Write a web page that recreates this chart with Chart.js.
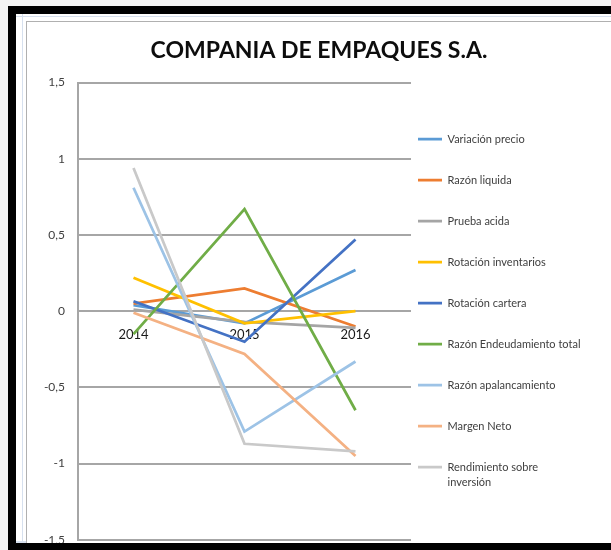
<!DOCTYPE html>
<html>
<head>
<meta charset="utf-8">
<script src="https://cdn.jsdelivr.net/npm/chart.js@4/dist/chart.umd.min.js"></script>
<style>
    html, body { margin: 0; padding: 0; }
    body { width: 611px; height: 550px; overflow: hidden; position: relative; background: #f4f4f4; font-family: Lato, sans-serif; }
    .bar { position: absolute; background: #000; z-index: 5; }
    .cellline { position: absolute; background: #d6e0ee; }
    #frame { position: absolute; left: 16px; top: 14px; right: 0; bottom: 0; background: #fff; }
    #chartBox { position: absolute; left: 26px; top: 21px; width: 585px; height: 540px; border-left: 1px solid #b0b0b0; border-top: 1px solid #b0b0b0; background: #fff; }
    #chartBox canvas { position: absolute; left: 0; top: 0; }
</style>
</head>
<body>
<div id="frame"></div>
<div class="cellline" style="left:22px; top:14px; width:1px; height:530px;"></div>
<div class="cellline" style="left:16px; top:16px; right:0; height:1px;"></div>
<div class="cellline" style="left:16px; top:541px; right:0; height:2px;"></div>
<div id="chartBox"><canvas id="chart" width="584" height="538"></canvas></div>
<div class="bar" style="left:8px; top:6px; right:0; height:8px;"></div>
<div class="bar" style="left:8px; top:6px; width:8px; bottom:0;"></div>
<div class="bar" style="left:8px; top:543px; right:0; height:7px;"></div>

<script>
// ── Data ──────────────────────────────────────────────────
const years = ['2014', '2015', '2016'];

const seriesNames = [
    'Variación precio',
    'Razón liquida',
    'Prueba acida',
    'Rotación inventarios',
    'Rotación cartera',
    'Razón Endeudamiento total',
    'Razón apalancamiento',
    'Margen Neto',
    'Rendimiento sobre\ninversión'
];

const variacionPrecio     = [0.04, -0.08, 0.27];
const razonLiquida        = [0.05, 0.15, -0.10];
const pruebaAcida         = [0.01, -0.07, -0.11];
const rotacionInventarios = [0.22, -0.08, 0.0];
const rotacionCartera     = [0.065, -0.20, 0.47];
const razonEndeudamiento  = [-0.15, 0.67, -0.65];
const razonApalancamiento = [0.81, -0.79, -0.33];
const margenNeto          = [-0.01, -0.28, -0.95];
const rendimientoInversion = [0.94, -0.87, -0.92];

const yTicks = [-1.5, -1, -0.5, 0, 0.5, 1, 1.5];

const seriesValues = [
    variacionPrecio, razonLiquida, pruebaAcida, rotacionInventarios, rotacionCartera,
    razonEndeudamiento, razonApalancamiento, margenNeto, rendimientoInversion
];

// Excel 2013 palette
const seriesColors = [
    '#5B9BD5', '#ED7D31', '#A5A5A5', '#FFC000', '#4472C4',
    '#70AD47', '#9DC3E6', '#F4B183', '#C9C9C9'
];

// ── Legend placement (Excel puts it close to the plot) ────
const LEGEND_GAP = 7;     // px between plot right edge and legend line
const LEGEND_FIRST_Y = 117;

const legendNudge = {
    id: 'legendNudge',
    afterLayout(chart) {
        const lg = chart.legend;
        if (!lg) return;
        const pad = lg.options.labels.padding;
        const dx = chart.chartArea.right + LEGEND_GAP - (lg.left + pad);
        const dy = LEGEND_FIRST_Y - (lg.top + pad + lg.options.labels.font.size / 2);
        lg.left += dx; lg.right += dx;
        lg.top += dy; lg.bottom += dy;
    }
};

const labelColor = '#404040';
const gridColor = '#a6a6a6';

new Chart(document.getElementById('chart'), {
    type: 'line',
    data: {
        labels: years,
        datasets: seriesValues.map((vals, i) => ({
            label: seriesNames[i],
            data: vals,
            borderColor: seriesColors[i],
            backgroundColor: seriesColors[i],
            borderWidth: 2.75,
            pointRadius: 0,
            tension: 0,
            fill: false,
            order: -i
        }))
    },
    options: {
        responsive: false,
        animation: false,
        layout: { padding: { left: 0, right: 0, top: 0, bottom: 17 } },
        plugins: {
            title: {
                display: true,
                text: 'COMPANIA DE EMPAQUES S.A.',
                color: '#0d0d0d',
                font: { family: 'Lato', size: 23, weight: 'bold' },
                padding: { top: 15, bottom: 18 }
            },
            legend: {
                position: 'right',
                align: 'start',
                maxWidth: 200,
                labels: {
                    usePointStyle: true,
                    pointStyle: 'line',
                    pointStyleWidth: 24,
                    padding: 30,
                    color: labelColor,
                    font: { family: 'Lato', size: 11, lineHeight: 1.45 },
                    sort: (a, b) => a.datasetIndex - b.datasetIndex,
                    generateLabels: chart => {
                        const items = Chart.defaults.plugins.legend.labels.generateLabels(chart);
                        items.forEach(it => {
                            if (it.text.indexOf('\n') >= 0) it.text = it.text.split('\n');
                        });
                        return items;
                    }
                }
            },
            tooltip: { enabled: false }
        },
        scales: {
            x: {
                type: 'category',
                position: { y: 0 },
                offset: true,
                grid: { display: false, drawTicks: false },
                border: { display: false },
                ticks: {
                    color: '#1a1a1a',
                    padding: 16,
                    font: { family: 'Lato', size: 13 }
                }
            },
            y: {
                min: -1.5,
                max: 1.5,
                afterFit: scale => { scale.width = 51; },
                afterBuildTicks: scale => { scale.ticks = yTicks.map(v => ({ value: v })); },
                grid: { color: gridColor, lineWidth: 2, drawTicks: false },
                border: { display: true, color: gridColor, width: 2 },
                ticks: {
                    color: labelColor,
                    padding: 13,
                    font: { family: 'Lato', size: 12 },
                    callback: v => String(v).replace('.', ',')
                }
            }
        }
    },
    plugins: [legendNudge]
});
</script>
</body>
</html>
